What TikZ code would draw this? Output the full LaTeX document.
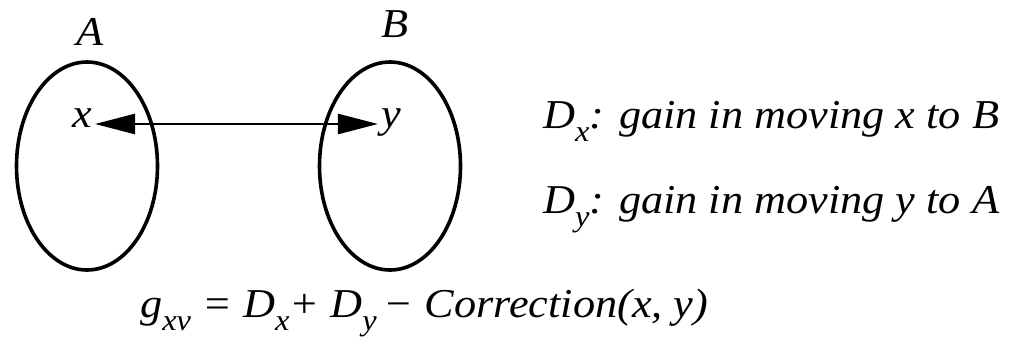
\documentclass[tikz,border=0pt]{standalone}
\usepackage{fontspec}
\setmainfont{Liberation Serif}[FakeStretch=1.08]
\usetikzlibrary{arrows.meta, positioning, shapes.geometric}
\newcommand\sub[1]{\raisebox{-0.32em}{\fontsize{30}{30}\selectfont #1}}

\begin{document}
\begin{tikzpicture}[x=1pt, y=-1pt, >={Triangle[length=40pt,width=20pt]},
  font=\fontsize{41}{48}\selectfont\itshape,
  set/.style={draw, ellipse, line width=3.6pt, minimum width=141pt, minimum height=208pt, inner sep=0pt},
  elem/.style={inner sep=3pt, text height=2.2ex, text depth=0.6ex}]
  \useasboundingbox (0,0) rectangle (1012,346);

  % the two sets
  \node (SA) [set] at (87,166) {};
  \node (SB) [set] at (390,166) {};
  \node (LA) [anchor=base] at (90,45) {A};
  \node (LB) [anchor=base] at (395,37) {B};

  % the pair to swap
  \node (ex) [elem] at (82,124) {x};
  \node (ey) [elem] at (391,124) {y};
  \draw[<->, line width=2.6pt] (ex) -- (ey);

  % gains
  \node (Dx) [anchor=base west, inner sep=0pt] at (543,128) {D\sub{x}: gain in moving x to B};
  \node (Dy) [anchor=base west, inner sep=0pt] at (543,213) {D\sub{y}: gain in moving y to A};

  % combined gain
  \node (gxy) [anchor=base west, inner sep=0pt] at (140,317) {g\sub{xv} = D\sub{x}+ D\sub{y}\,− Correction(x, y)};
\end{tikzpicture}
\end{document}
